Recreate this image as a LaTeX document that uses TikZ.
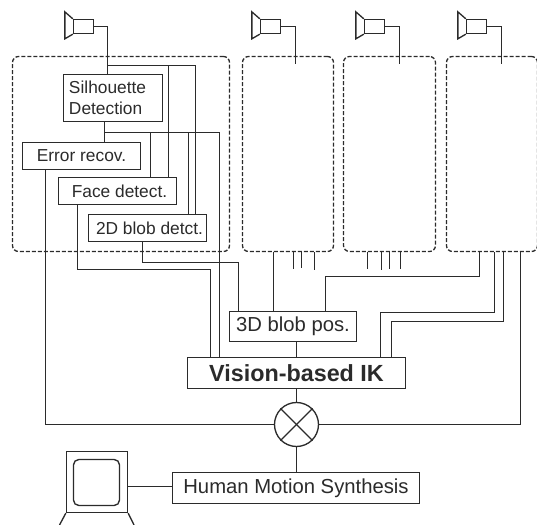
\documentclass[tikz,border=0pt]{standalone}
\usepackage{fontspec}
\setmainfont{Liberation Sans}
\usetikzlibrary{positioning, calc}
\definecolor{ink}{HTML}{2B2B2B}

\begin{document}
\begin{tikzpicture}[
    x=0.75pt, y=-0.75pt,
    color=ink,
    line width=1pt,
    smallbox/.style={draw, rectangle, minimum width=88.5pt, minimum height=20.25pt, inner sep=0pt, fill=white, font=\fontsize{13}{15.5}\selectfont},
    midbox/.style={draw, rectangle, minimum height=22.5pt, inner sep=0pt, fill=white, font=\fontsize{15.2}{18}\selectfont},
    camera/.style={draw, rectangle, minimum width=15pt, minimum height=10.5pt, inner sep=0pt},
    group/.style={draw, dash pattern=on 3pt off 1.5pt, rectangle, rounded corners=4.5pt, minimum height=146.25pt, inner sep=0pt}
]
    \useasboundingbox (0,0) rectangle (537,525);

    % ================= CAMERA GROUPS =================
    \node[group, minimum width=162.75pt] (G1) at (121, 154) {};
    \node[group, minimum width=68.25pt] (G2) at (288, 154) {};
    \node[group, minimum width=69pt] (G3) at (389.5, 154) {};
    \node[group, minimum width=68.25pt] (G4) at (492, 154) {};

    % ================= CAMERAS =================
    \node[camera] (CAM1) at (83.5, 26.5) {};
    \node[camera] (CAM2) at (270.5, 26.5) {};
    \node[camera] (CAM3) at (374.5, 26.5) {};
    \node[camera] (CAM4) at (476.5, 26.5) {};

    \draw (CAM1.north west) -- ++(-8,-7) -- ++(0,27) -- (CAM1.south west);
    \draw (CAM2.north west) -- ++(-8,-7) -- ++(0,27) -- (CAM2.south west);
    \draw (CAM3.north west) -- ++(-8,-7) -- ++(0,27) -- (CAM3.south west);
    \draw (CAM4.north west) -- ++(-8,-7) -- ++(0,27) -- (CAM4.south west);

    % ================= BLOCKS =================
    \node[smallbox, minimum width=74.25pt, minimum height=35.25pt, text width=66pt, align=left] (SIL) at (113, 98) {Silhouette\\Detection};
    \node[smallbox] (ERR) at (81.5, 156) {Error recov.\hspace{5pt}};
    \node[smallbox] (FACE) at (117.5, 191) {\hspace{3pt}Face detect.};
    \node[smallbox] (BLOB2D) at (147.5, 228) {\hspace{3pt}2D blob detct.};
    \node[midbox, minimum width=95.25pt] (BLOB3D) at (293, 326.5) {3D blob pos.};
    \node[midbox, minimum width=163.5pt, minimum height=23.25pt, font=\fontsize{17.5}{21}\selectfont\bfseries] (IK) at (296.5, 373) {Vision-based IK};
    \node[draw, circle, minimum size=33pt, inner sep=0pt] (MIX) at (296.5, 424.5) {};
    \draw (MIX.north west) -- (MIX.south east);
    \draw (MIX.north east) -- (MIX.south west);
    \node[midbox, minimum width=185.25pt, minimum height=23.25pt] (HMS) at (296, 488) {Human Motion Synthesis};

    % ================= DISPLAY =================
    \node[draw, rectangle, minimum width=45.75pt, minimum height=45.75pt, inner sep=0pt] (DISP) at (97, 482) {};
    \node[draw, rectangle, rounded corners=4pt, minimum width=34.5pt, minimum height=34.5pt, inner sep=0pt] (SCREEN) at (96.5, 482.5) {};
    \coordinate (LEGL) at (59.5, 525);
    \coordinate (LEGR) at (134, 525);
    \coordinate (LINK) at (150, 486.5);
    \draw (DISP.south west) -- (LEGL);
    \draw (DISP.south east) -- (LEGR);
    \draw (DISP.east |- LINK) -- (HMS.west |- LINK);

    % ================= CAMERA LINKS =================
    \coordinate (TAP1) at (107.5, 65.5);
    \coordinate (TAP2) at (295.5, 64);
    \coordinate (TAP3) at (399.5, 64);
    \coordinate (TAP4) at (501.5, 64);

    \draw (CAM1.east) -| (SIL.north -| TAP1);
    \draw (CAM2.east) -| (TAP2);
    \draw (CAM3.east) -| (TAP3);
    \draw (CAM4.east) -| (TAP4);

    % ================= INSIDE FIRST GROUP =================
    \coordinate (SILOUT) at (104.5, 132.5);
    \coordinate (ERROUT) at (45.5, 424.5);

    \draw (TAP1) -| (BLOB2D.north -| 195.5, 0);
    \draw (168.5, 65.5) -- (FACE.north -| 168.5, 0);

    \draw (SIL.south -| SILOUT) -- (ERR.north -| SILOUT);
    \draw (SILOUT) -| (IK.north -| 219.5, 0);
    \draw (150.5, 132.5) -- (FACE.north -| 150.5, 0);
    \draw (188.5, 132.5) -- (BLOB2D.north -| 188.5, 0);

    \draw (ERR.south -| ERROUT) -- (ERROUT) -- (MIX);
    \draw (FACE.south -| 77.5, 0) |- (210.5, 269.5) -- (IK.north -| 210.5, 0);
    \draw (BLOB2D.south -| 142.5, 0) |- (238.5, 262.5) -- (BLOB3D.north -| 238.5, 0);

    % ================= OTHER GROUP OUTPUTS =================
    \draw (G2.south -| 273.5, 0) -- (BLOB3D.north -| 273.5, 0);
    \draw (G2.south -| 293.5, 0) -- (293.5, 269);
    \draw (G2.south -| 301.5, 0) -- (301.5, 268);
    \draw (G2.south -| 314.5, 0) -- (314.5, 270);

    \draw (G3.south -| 367.5, 0) -- (367.5, 269);
    \draw (G3.south -| 381.5, 0) -- (381.5, 270);
    \draw (G3.south -| 389.5, 0) -- (389.5, 269);
    \draw (G3.south -| 400.5, 0) -- (400.5, 269);

    \draw (G4.south -| 479.5, 0) |- (325.5, 276.5) -- (BLOB3D.north -| 325.5, 0);
    \draw (G4.south -| 494.5, 0) |- (380.5, 312.5) -- (IK.north -| 380.5, 0);
    \draw (G4.south -| 503.5, 0) |- (391.5, 321.5) -- (IK.north -| 391.5, 0);
    \draw (G4.south -| 520.5, 0) |- (MIX);

    % ================= CENTRE COLUMN =================
    \draw (BLOB3D.south -| MIX) -- (IK.north -| MIX);
    \draw (IK.south -| MIX) -- (MIX);
    \draw (MIX) -- (HMS.north -| MIX);
\end{tikzpicture}
\end{document}
